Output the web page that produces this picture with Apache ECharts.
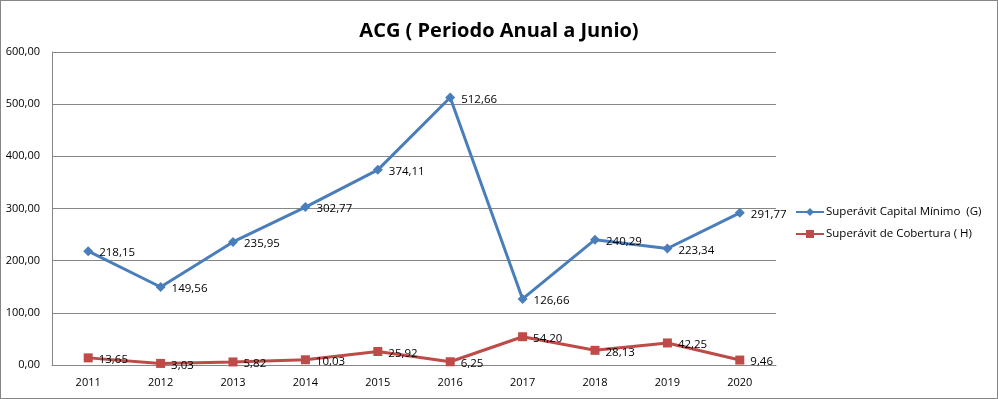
<!DOCTYPE html>
<html><head><meta charset="utf-8">
<script src="https://cdn.jsdelivr.net/npm/echarts@6/dist/echarts.min.js"></script>
<style>
html,body{margin:0;padding:0;background:#fff;}
#c{width:996px;height:397px;border:1px solid #868686;}
</style></head>
<body><div id="c"></div>
<script>
const categories = ['2011','2012','2013','2014','2015','2016','2017','2018','2019','2020'];
const capitalMinimo = [218.15,149.56,235.95,302.77,374.11,512.66,126.66,240.29,223.34,291.77];
const cobertura = [13.65,3.03,5.82,10.03,25.92,6.25,54.20,28.13,42.25,9.46];
const yTicks = [0,100,200,300,400,500,600];

const fmt = v => v.toFixed(2).replace('.', ',');
const font = '"Open Sans", "Noto Sans", sans-serif';
const chart = echarts.init(document.getElementById('c'));
const lbl = {show:true, position:'right', distance:6, offset:[0,2], fontFamily:font, fontSize:11.5, color:'#000', formatter:p=>fmt(p.value)};
chart.setOption({
  animation:false,
  title:{text:'ACG ( Periodo Anual a Junio)', left:'center', top:15,
    textStyle:{fontFamily:font, fontSize:20, fontWeight:'bold', color:'#000'}},
  grid:{left:51, top:51, width:724, height:313},
  legend:{orient:'vertical', left:789, top:200, itemGap:10, itemWidth:28, itemHeight:10,
    textStyle:{fontFamily:font, fontSize:11.5, color:'#000', padding:[0,0,0,-3]},
    data:['Superávit Capital Mínimo  (G)','Superávit de Cobertura ( H)']},
  xAxis:{type:'category', data:categories, boundaryGap:true,
    axisLine:{lineStyle:{color:'#868686'}}, axisTick:{show:false},
    axisLabel:{fontFamily:font, fontSize:11, color:'#000', margin:12}},
  yAxis:{type:'value', min:yTicks[0], max:yTicks[yTicks.length-1], interval:100,
    axisLine:{show:true, lineStyle:{color:'#868686'}}, axisTick:{show:false},
    splitLine:{lineStyle:{color:'#868686'}},
    axisLabel:{fontFamily:font, fontSize:11, color:'#000', margin:12, formatter:v=>fmt(v)}},
  series:[
    {name:'Superávit Capital Mínimo  (G)', type:'line', data:capitalMinimo,
     symbol:'diamond', symbolSize:10, lineStyle:{color:'#4a7ebb', width:3}, itemStyle:{color:'#4a7ebb'},
     label:lbl},
    {name:'Superávit de Cobertura ( H)', type:'line', data:cobertura,
     symbol:'rect', symbolSize:9, lineStyle:{color:'#be4b48', width:3}, itemStyle:{color:'#be4b48'},
     label:lbl}
  ]
});
</script></body></html>
